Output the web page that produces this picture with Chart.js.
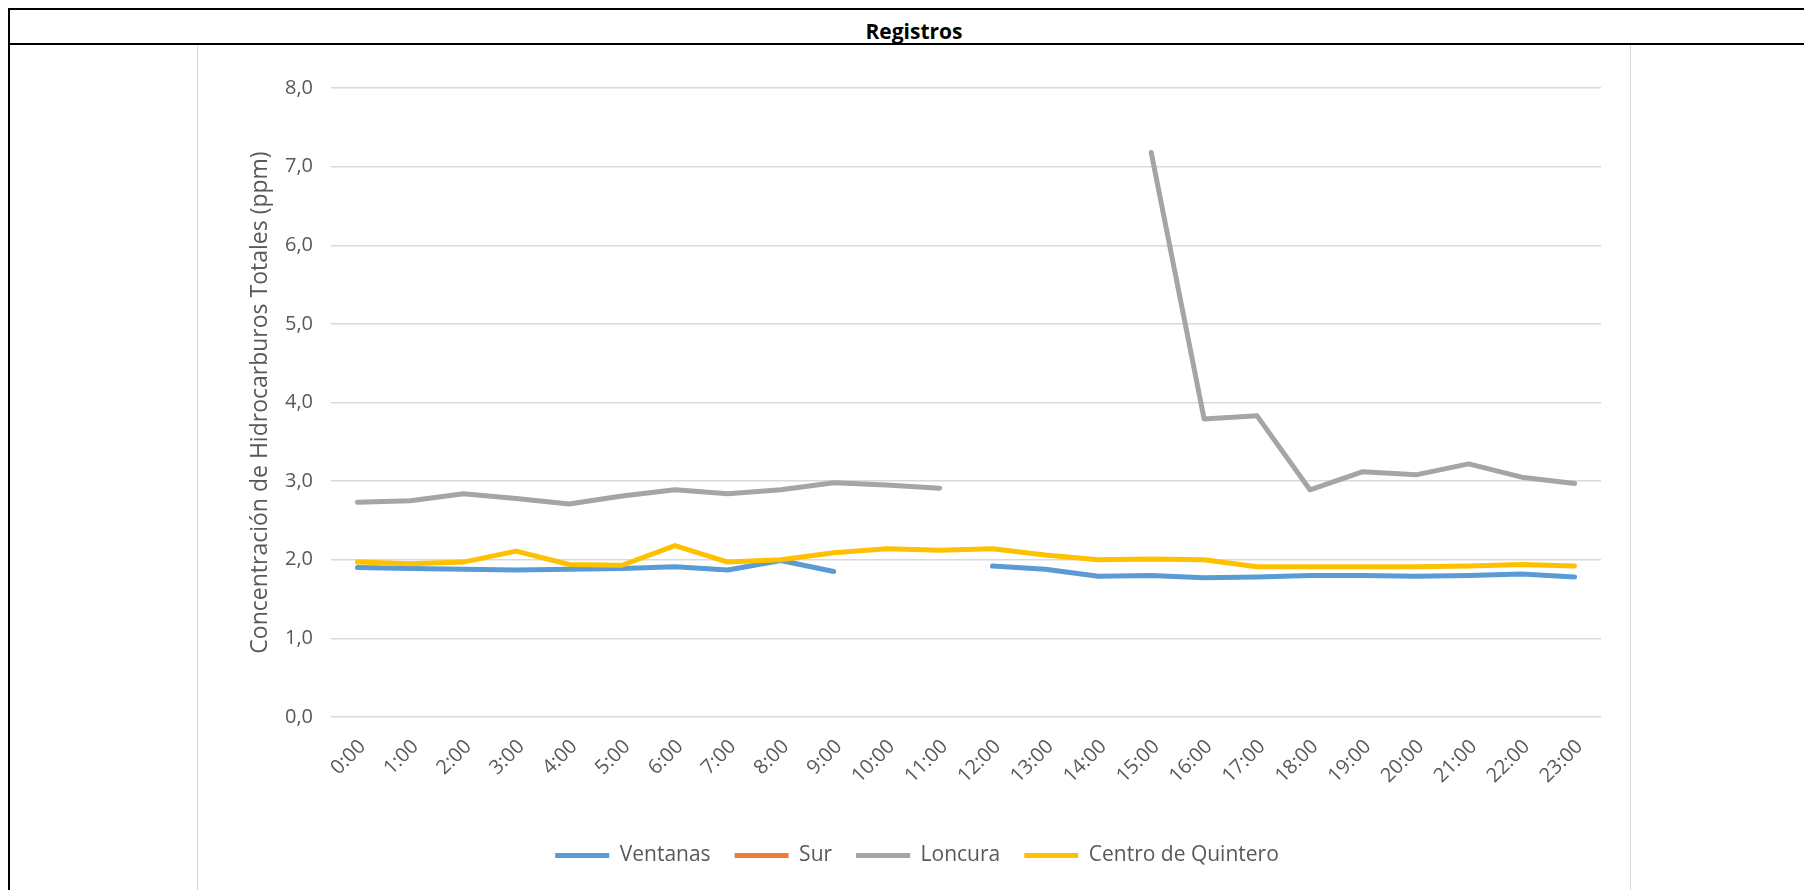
<!DOCTYPE html>
<html>
<head>
<meta charset="utf-8">
<script src="https://cdn.jsdelivr.net/npm/chart.js@4.4.1/dist/chart.umd.min.js"></script>
<style>
    body { margin: 0; background: #fff; width: 1804px; height: 890px; overflow: hidden; position: relative; font-family: 'Open Sans', sans-serif; }
    .hline { position: absolute; left: 8px; width: 1796px; height: 2px; background: #000; }
    .vline { position: absolute; left: 8px; top: 8px; width: 2px; height: 882px; background: #000; }
    #titulo { position: absolute; left: 844px; width: 140px; top: 17px; text-align: center; font-weight: bold; font-size: 21px; color: #000; }
    #caja { position: absolute; left: 197px; top: 45px; width: 1432px; height: 851px; border-left: 1px solid #d9d9d9; border-right: 1px solid #d9d9d9; }
</style>
</head>
<body>
<div class="hline" style="top:8px"></div>
<div class="hline" style="top:43px"></div>
<div class="vline"></div>
<div id="titulo">Registros</div>
<div id="caja"><canvas id="registrosChart" width="1432" height="831"></canvas></div>
<script>
// horas del dia
const horas = ['0:00', '1:00', '2:00', '3:00', '4:00', '5:00', '6:00', '7:00', '8:00', '9:00', '10:00', '11:00',
    '12:00', '13:00', '14:00', '15:00', '16:00', '17:00', '18:00', '19:00', '20:00', '21:00', '22:00', '23:00'];

// concentraciones (ppm) por estacion
const ventanas = [1.90, 1.89, 1.88, 1.87, 1.88, 1.89, 1.91, 1.87, 1.99, 1.85, null, null,
    1.92, 1.88, 1.79, 1.80, 1.77, 1.78, 1.80, 1.80, 1.79, 1.80, 1.82, 1.78];
const sur = [null, null, null, null, null, null, null, null, null, null, null, null,
    null, null, null, null, null, null, null, null, null, null, null, null];
const loncura = [2.73, 2.75, 2.84, 2.78, 2.71, 2.81, 2.89, 2.84, 2.89, 2.98, 2.95, 2.91,
    null, null, null, 7.18, 3.79, 3.83, 2.89, 3.12, 3.08, 3.22, 3.05, 2.97];
const centro = [1.97, 1.95, 1.97, 2.11, 1.94, 1.93, 2.18, 1.97, 2.00, 2.09, 2.14, 2.12,
    2.14, 2.06, 2.00, 2.01, 2.00, 1.91, 1.91, 1.91, 1.91, 1.92, 1.94, 1.92];

const yTituloTexto = 'Concentración de Hidrocarburos Totales (ppm)';

function serie(label, data, color, order) {
    return {
        label: label,
        data: data,
        borderColor: color,
        backgroundColor: color,
        borderWidth: 5,
        borderCapStyle: 'round',
        borderJoinStyle: 'round',
        pointRadius: 0,
        pointHoverRadius: 0,
        tension: 0,
        spanGaps: false,
        order: order
    };
}

Chart.defaults.font.family = "'Open Sans', sans-serif";
Chart.defaults.color = '#595959';

const data = {
    labels: horas,
    datasets: [
        serie('Ventanas', ventanas, '#5B9BD5', 4),
        serie('Sur', sur, '#ED7D31', 3),
        serie('Loncura', loncura, '#A5A5A5', 2),
        serie('Centro de Quintero', centro, '#FFC000', 1)
    ]
};

const config = {
    type: 'line',
    data: data,
    options: {
        responsive: false,
        animation: false,
        layout: { padding: { left: 35, right: 29, top: 43, bottom: 0 } },
        plugins: {
            legend: {
                position: 'bottom',
                labels: {
                    usePointStyle: true,
                    pointStyle: 'line',
                    pointStyleWidth: 54,
                    padding: 24,
                    color: '#595959',
                    font: { size: 21 },
                    sort: function (a, b) { return a.datasetIndex - b.datasetIndex; }
                }
            },
            tooltip: { enabled: false }
        },
        scales: {
            x: {
                offset: true,
                grid: { display: false, drawTicks: false },
                border: { display: false },
                ticks: {
                    autoSkip: false,
                    maxRotation: 45,
                    minRotation: 45,
                    padding: 18,
                    labelOffset: 5,
                    color: '#595959',
                    font: { size: 20 }
                },
                afterFit: function (scale) { scale.height = 104; }
            },
            y: {
                min: 0,
                max: 8,
                grid: { color: '#d9d9d9', lineWidth: 1.5, drawTicks: false },
                border: { display: false },
                ticks: {
                    stepSize: 1,
                    padding: 18,
                    color: '#595959',
                    font: { size: 20 },
                    callback: function (v) { return v.toFixed(1).replace('.', ','); }
                },
                title: {
                    display: true,
                    text: yTituloTexto,
                    color: '#595959',
                    font: { size: 23 },
                    padding: { top: 14, bottom: 0 }
                },
                afterFit: function (scale) { scale.width = 98; }
            }
        }
    }
};

const myChart = new Chart(document.getElementById('registrosChart'), config);
</script>
</body>
</html>
